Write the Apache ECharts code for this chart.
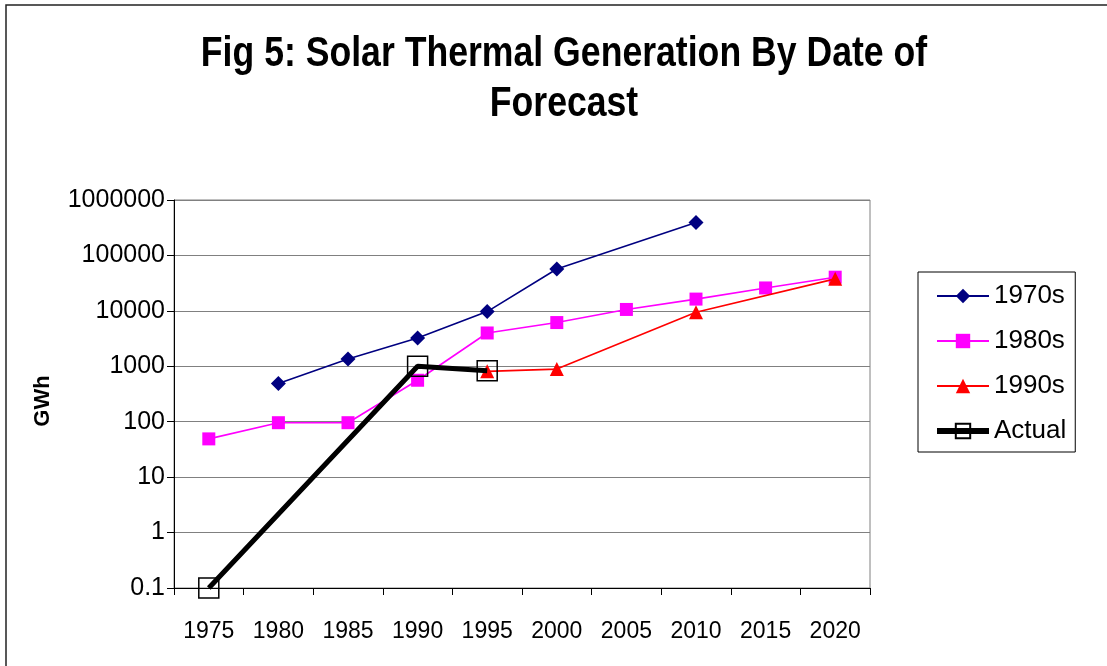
<!DOCTYPE html>
<html>
<head>
<meta charset="utf-8">
<script src="https://cdn.jsdelivr.net/npm/echarts@6/dist/echarts.min.js"></script>
<style>html,body{margin:0;padding:0;background:#fff}#c{width:1107px;height:666px}</style>
</head>
<body>
<div id="c"></div>
<script>
const categories = ['1975','1980','1985','1990','1995','2000','2005','2010','2015','2020'];
const s1970s = [null, 490, 1350, 3240, 9700, 57000, null, 394000, null, null];
const s1980s = [49, 96, 96, 560, 3990, 6150, 10600, 16300, 25900, 40500];
const s1990s = [null, null, null, null, 810, 890, null, 9460, null, 37800];
const sActual = [0.1, null, null, 1000, 830, null, null, null, null, null];
const yTickLabels = ['0.1','1','10','100','1000','10000','100000','1000000'];
const titleLines = ['Fig 5: Solar Thermal Generation By Date of', 'Forecast'];

const chart = echarts.init(document.getElementById('c'), null, {renderer: 'canvas'});
const FONT = 'Liberation Sans, Arial, sans-serif';

const option = {
  backgroundColor: '#fff',
  animation: false,
  graphic: [
    {type: 'rect', shape: {x: 6, y: 5, width: 1130, height: 700}, style: {fill: 'none', stroke: '#222', lineWidth: 1.5}, silent: true, z: -1},
    {type: 'text', x: 564, y: 54, scaleX: 0.848, style: {text: titleLines[0], x: 0, y: 0, textAlign: 'center', textVerticalAlign: 'middle', font: 'bold 42px ' + FONT, fill: '#000'}},
    {type: 'text', x: 564, y: 104, scaleX: 0.848, style: {text: titleLines[1], x: 0, y: 0, textAlign: 'center', textVerticalAlign: 'middle', font: 'bold 42px ' + FONT, fill: '#000'}}
  ],
  grid: {left: 174, top: 200, right: 237, bottom: 78, show: true, borderColor: '#808080', borderWidth: 1, containLabel: false},
  legend: {
    orient: 'vertical', left: 918, top: 272,
    padding: [11, 9, 8, 16],
    borderColor: '#000', borderWidth: 1,
    itemWidth: 52, itemHeight: 18, itemGap: 19, itemTextGap: 7,
    textStyle: {fontFamily: FONT, fontSize: 26, color: '#000', lineHeight: 26},
    data: [
      {name: '1970s'},
      {name: '1980s'},
      {name: '1990s'},
      {name: 'Actual', lineStyle: {width: 6, color: '#000'}}
    ]
  },
  xAxis: {
    type: 'category', data: categories, boundaryGap: true,
    axisLine: {lineStyle: {color: '#000', width: 1}},
    axisTick: {show: true, length: 7, lineStyle: {color: '#000'}},
    axisLabel: {margin: 32, fontFamily: FONT, fontSize: 23, color: '#000'},
    splitLine: {show: false}
  },
  yAxis: {
    type: 'log', logBase: 10, min: 0.1, max: 1000000,
    name: 'GWh', nameLocation: 'middle', nameRotate: 90, nameGap: 120,
    nameTextStyle: {fontFamily: FONT, fontSize: 22, fontWeight: 'bold', color: '#000', padding: [0, 14, 0, 0]},
    axisLine: {show: true, lineStyle: {color: '#000', width: 1}},
    axisTick: {show: true, length: 7, lineStyle: {color: '#000'}},
    axisLabel: {margin: 9, fontFamily: FONT, fontSize: 25, color: '#000',
      formatter: function (v) { const i = Math.round(Math.log10(v)) + 1; return yTickLabels[i] !== undefined ? yTickLabels[i] : ''; }},
    splitLine: {show: true, lineStyle: {color: '#808080', width: 1}}
  },
  series: [
    {name: '1970s', type: 'line', data: s1970s, connectNulls: true, symbol: 'diamond', symbolSize: 15,
      itemStyle: {color: '#000080'}, lineStyle: {color: '#000080', width: 1.6}, z: 2},
    {name: '1980s', type: 'line', data: s1980s, connectNulls: true, symbol: 'rect', symbolSize: 13,
      itemStyle: {color: '#FF00FF'}, lineStyle: {color: '#FF00FF', width: 1.6}, z: 3},
    {name: '1990s', type: 'line', data: s1990s, connectNulls: true, symbol: 'triangle', symbolSize: 14,
      itemStyle: {color: '#FF0000'}, lineStyle: {color: '#FF0000', width: 1.6}, z: 4},
    {name: 'Actual', type: 'line', data: sActual, connectNulls: true, symbol: 'rect', symbolSize: 20,
      itemStyle: {color: 'rgba(0,0,0,0)', borderColor: '#000', borderWidth: 1.5},
      lineStyle: {color: '#000', width: 5}, z: 5}
  ]
};
chart.setOption(option);
</script>
</body>
</html>
